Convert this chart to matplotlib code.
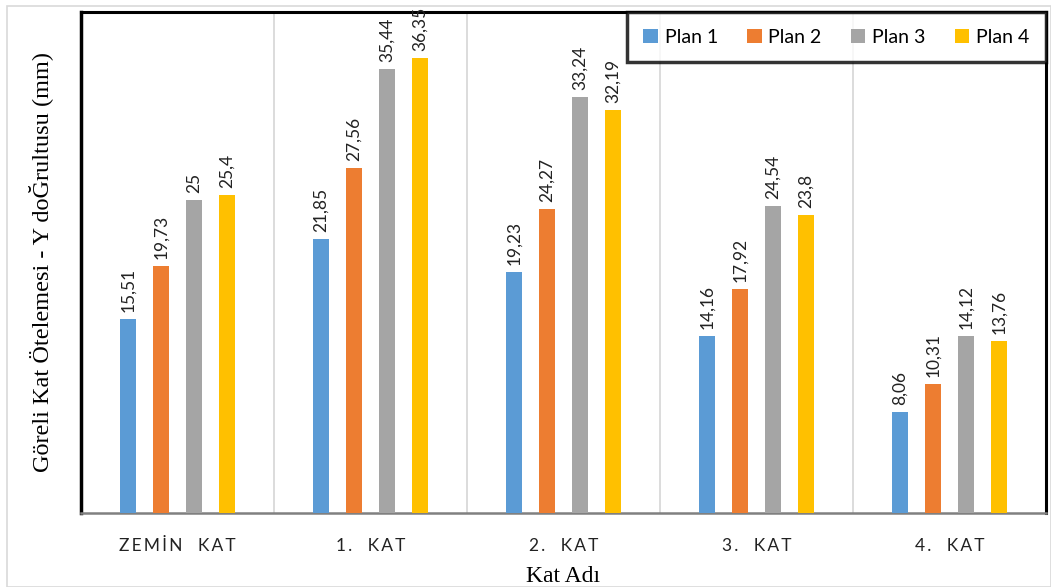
import matplotlib
matplotlib.use("Agg")
import matplotlib.pyplot as plt
import numpy as np
from matplotlib.patches import Rectangle

categories = ["ZEMİN KAT", "1. KAT", "2. KAT", "3. KAT", "4. KAT"]
series_names = ["Plan 1", "Plan 2", "Plan 3", "Plan 4"]
plan1 = [15.51, 21.85, 19.23, 14.16, 8.06]
plan2 = [19.73, 27.56, 24.27, 17.92, 10.31]
plan3 = [25.0, 35.44, 33.24, 24.54, 14.12]
plan4 = [25.4, 36.35, 32.19, 23.8, 13.76]
label_texts = [
    ["15,51", "21,85", "19,23", "14,16", "8,06"],
    ["19,73", "27,56", "24,27", "17,92", "10,31"],
    ["25", "35,44", "33,24", "24,54", "14,12"],
    ["25,4", "36,35", "32,19", "23,8", "13,76"],
]
colors = ["#5B9BD5", "#ED7D31", "#A5A5A5", "#FFC000"]

plt.rcParams["font.family"] = ["Lato", "DejaVu Sans"]

fig = plt.figure(figsize=(10.51, 5.87), dpi=100)
fig.patches.append(Rectangle((7 / 1051, 0), 1 - 7 / 1051, 1 - 6 / 587,
                             transform=fig.transFigure, fill=False,
                             edgecolor="#d9d9d9", linewidth=1.2))
ax = fig.add_axes([81 / 1051, 74 / 587, (1046 - 81) / 1051, (513 - 12) / 587])

x = np.arange(len(categories))
width = 0.088
step = 0.171
series = [plan1, plan2, plan3, plan4]
for i, (vals, col, name) in enumerate(zip(series, colors, series_names)):
    pos = x + (i - 1.5) * step
    ax.bar(pos, vals, width=width, color=col, label=name, zorder=3)
    for px, v, t in zip(pos, vals, label_texts[i]):
        ax.annotate(t, (px, v), xytext=(0, 5), textcoords="offset points",
                    rotation=90, ha="center", va="bottom", fontsize=12.5,
                    color="#222222")

ax.set_xlim(-0.5, len(categories) - 0.5)
ax.set_ylim(0, 40)
ax.set_yticks([])
ax.set_xticks(x)
spaced = ["\u2009".join(list(c.replace(" ", "  "))) for c in categories]
ax.set_xticklabels(spaced, fontsize=12.5, color="#222222")
ax.tick_params(axis="x", length=0, pad=18)

for b in np.arange(0.5, len(categories) - 0.5, 1.0):
    ax.axvline(b, color="#d9d9d9", linewidth=1.3, zorder=1)

ax.spines["left"].set_linewidth(2.5)
ax.spines["left"].set_color("black")
ax.spines["top"].set_linewidth(2.2)
ax.spines["right"].set_linewidth(2.2)
ax.spines["bottom"].set_color("#808080")
ax.spines["bottom"].set_linewidth(1.8)

ax.set_ylabel("Göreli Kat Ötelemesi - Y doĞrultusu (mm)", family="Liberation Serif",
              fontsize=17.5, labelpad=20)
ax.set_xlabel("Kat Adı", family="Liberation Serif", fontsize=17, labelpad=9)

leg = ax.legend(loc="upper right", ncol=4, fontsize=14, frameon=True,
                fancybox=False, borderaxespad=0.0, handlelength=0.75,
                handleheight=0.75, handletextpad=0.35, columnspacing=1.5,
                borderpad=0.85)
leg.get_frame().set_edgecolor("black")
leg.get_frame().set_linewidth(2.5)

fig.savefig("out.png", dpi=100)
